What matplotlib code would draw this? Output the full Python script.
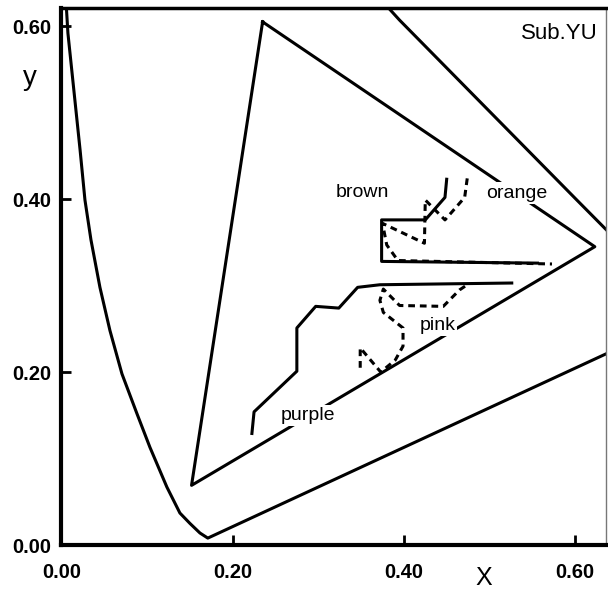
import matplotlib
matplotlib.use("Agg")
import matplotlib.pyplot as plt

plt.rcParams['font.family'] = ['Liberation Sans', 'DejaVu Sans']

# spectral locus (left branch + purple line)
locus_x = [0.0053, 0.0076, 0.0158, 0.0218, 0.0275, 0.0345, 0.045, 0.0567,
           0.0707, 0.0882, 0.1034, 0.1232, 0.1384, 0.1501, 0.1618, 0.171, 0.66]
locus_y = [0.630, 0.592, 0.514, 0.457, 0.399, 0.353, 0.298, 0.248,
           0.198, 0.152, 0.113, 0.067, 0.037, 0.025, 0.0139, 0.008, 0.232]
# spectral locus, upper-right branch
upper_x = [0.372, 0.395, 0.602, 0.637, 0.66]
upper_y = [0.632, 0.607, 0.399, 0.364, 0.337]

# gamut triangle
tri_x = [0.235, 0.152, 0.623, 0.235]
tri_y = [0.605, 0.069, 0.345, 0.605]

purple_x = [0.2225, 0.225, 0.275, 0.275, 0.297, 0.324, 0.346, 0.372, 0.526]
purple_y = [0.129, 0.154, 0.201, 0.251, 0.276, 0.274, 0.298, 0.301, 0.303]

pink_x = [0.349, 0.349, 0.373, 0.390, 0.399, 0.399, 0.376, 0.372, 0.376,
          0.395, 0.446, 0.465, 0.474]
pink_y = [0.205, 0.228, 0.200, 0.214, 0.230, 0.251, 0.269, 0.283, 0.296,
          0.277, 0.276, 0.295, 0.301]

brown_x = [0.450, 0.448, 0.425, 0.374, 0.374, 0.556]
brown_y = [0.423, 0.402, 0.376, 0.376, 0.328, 0.326]

orange_x = [0.474, 0.471, 0.448, 0.425, 0.424, 0.375, 0.380, 0.393, 0.573]
orange_y = [0.424, 0.402, 0.376, 0.399, 0.349, 0.372, 0.347, 0.329, 0.325]

labels = ["brown", "orange", "pink", "purple"]
label_x = [0.351, 0.532, 0.439, 0.288]
label_y = [0.408, 0.407, 0.254, 0.150]

ticks = [0.0, 0.2, 0.4, 0.6]
tick_labels = ["0.00", "0.20", "0.40", "0.60"]

fig = plt.figure(figsize=(6.08, 5.91), dpi=100)
ax = fig.add_axes([0.101, 0.0778, 0.8956, 0.9086])

lw = 2.2
ax.plot(locus_x, locus_y, color="black", lw=lw)
ax.plot(upper_x, upper_y, color="black", lw=lw)
ax.plot(tri_x, tri_y, color="black", lw=lw)
ax.plot(purple_x, purple_y, color="black", lw=lw)
ax.plot(brown_x, brown_y, color="black", lw=lw)
ax.plot(pink_x, pink_y, color="black", lw=lw, dashes=(2.2, 1.6))
ax.plot(orange_x, orange_y, color="black", lw=lw, dashes=(2.2, 1.6))

for name, lx, ly in zip(labels, label_x, label_y):
    ax.text(lx, ly, name, ha="center", va="center", fontsize=14, zorder=5,
            bbox=dict(fc="white", ec="none", pad=1.5))

ax.text(0.626, 0.592, "Sub.YU", ha="right", va="center", fontsize=16)

ax.set_xlim(0, 0.636)
ax.set_ylim(0, 0.621)
ax.set_xticks(ticks)
ax.set_xticklabels(tick_labels)
ax.set_yticks(ticks)
ax.set_yticklabels(tick_labels)
ax.tick_params(direction="in", length=7, width=2, labelsize=14.5)
ax.tick_params(axis="x", pad=13)
ax.tick_params(axis="y", pad=7)
for lab in ax.get_xticklabels() + ax.get_yticklabels():
    lab.set_fontweight("bold")

ax.spines["left"].set_linewidth(3)
ax.spines["bottom"].set_linewidth(3)
ax.spines["top"].set_linewidth(2.5)
ax.spines["right"].set_linewidth(1)
ax.spines["right"].set_color("#777777")

ax.text(-0.058, 0.87, "y", transform=ax.transAxes, ha="center", va="center", fontsize=20)
ax.text(0.776, -0.062, "X", transform=ax.transAxes, ha="center", va="center", fontsize=18)

plt.savefig("out.png", dpi=100)
